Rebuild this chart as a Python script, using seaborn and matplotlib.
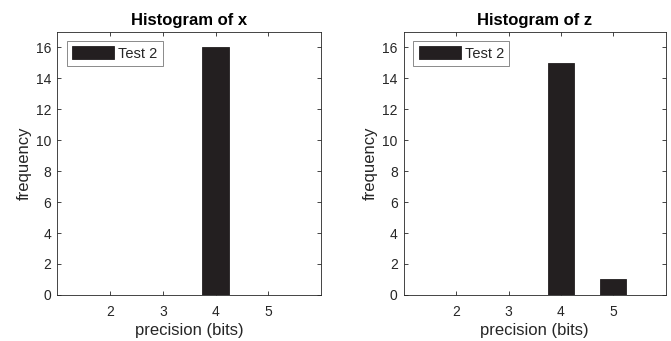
import matplotlib
matplotlib.use("Agg")
import matplotlib.pyplot as plt
import seaborn as sns
import pandas as pd

# Histogram counts per precision level
precision_bits = [2, 3, 4, 5]
counts_x = [0, 0, 16, 0]
counts_z = [0, 0, 15, 1]
series_label = "Test 2"
titles = ["Histogram of x", "Histogram of z"]

sns.set_theme(style="white")
plt.rcParams["font.family"] = ["Liberation Sans", "DejaVu Sans"]

bar_color = "#231f20"
axis_color = "#262626"

fig = plt.figure(figsize=(6.71, 3.41), dpi=100)
ax_left = fig.add_axes([0.0854, 0.135, 0.393, 0.772])
ax_right = fig.add_axes([0.602, 0.135, 0.390, 0.772])

for ax, counts, title in zip([ax_left, ax_right], [counts_x, counts_z], titles):
    df = pd.DataFrame({"bits": precision_bits, "count": counts})
    sns.barplot(data=df, x="bits", y="count", native_scale=True, width=0.5,
                color=bar_color, saturation=1, edgecolor=bar_color,
                linewidth=0.6, label=series_label, ax=ax)
    ax.set_xlim(1, 6)
    ax.set_ylim(0, 17)
    ax.set_xticks(precision_bits)
    ax.set_yticks(range(0, 17, 2))
    ax.set_xlabel("precision (bits)", fontsize=12, color=axis_color, labelpad=3)
    ax.set_ylabel("frequency", fontsize=12, color=axis_color, labelpad=3)
    ax.set_title(title, fontsize=12, fontweight="bold", color="#000000", pad=5)
    ax.tick_params(direction="in", length=3, width=0.6, colors=axis_color,
                   labelsize=10, top=True, right=True, bottom=True, left=True,
                   labelcolor=axis_color)
    ax.tick_params(axis="x", pad=7)
    ax.tick_params(axis="y", pad=4.5)
    for spine in ax.spines.values():
        spine.set_visible(True)
        spine.set_color(axis_color)
        spine.set_linewidth(0.6)
    leg = ax.legend(loc="upper left", fontsize=10.5, frameon=True, fancybox=False,
                    handlelength=2.9, handleheight=0.94, handletextpad=0.28,
                    borderpad=0.35, borderaxespad=0.65)
    leg.get_frame().set_edgecolor("#555555")
    leg.get_frame().set_linewidth(0.6)

fig.savefig("out.png", dpi=100)
